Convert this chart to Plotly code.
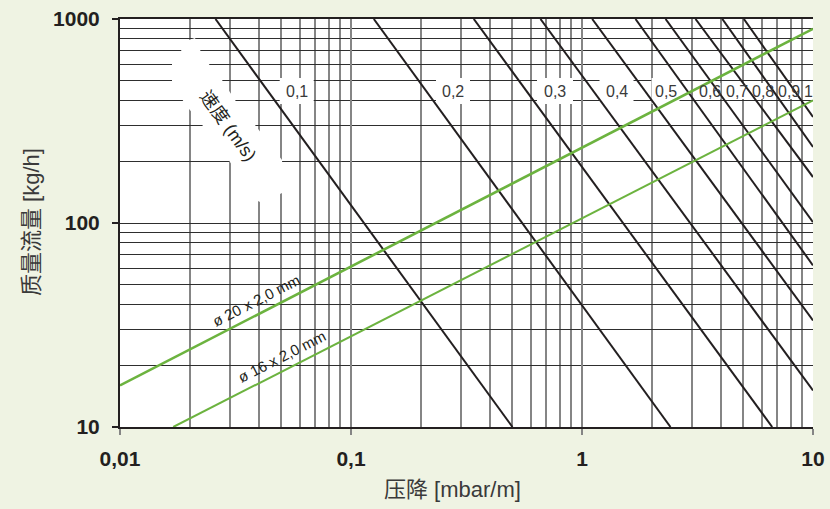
import plotly.graph_objects as go

# velocity lines (m/s): start on top edge, end on bottom or right edge
vel_labels = ["0,1", "0,2", "0,3", "0,4", "0,5", "0,6", "0,7", "0,8", "0,9", "1"]
vel_x_start = [0.0259, 0.1255, 0.340, 0.661, 1.107, 1.704, 2.30, 3.10, 4.05, 5.02]
vel_y_start = [1000, 1000, 1000, 1000, 1000, 1000, 1000, 1000, 1000, 1000]
vel_x_end = [0.5, 2.416, 6.66, 10, 10, 10, 10, 10, 10, 10]
vel_y_end = [10, 10, 10, 15.1, 33.3, 62, 101, 168, 236, 331]

# pipe lines
pipe_labels = ["ø 20 x 2,0 mm", "ø 16 x 2,0 mm"]
pipe_x = [[0.01, 10], [0.0170, 10]]
pipe_y = [[16.0, 895], [10, 399]]
pipe_widths = [2.6, 2.0]

x_ticks = [0.01, 0.1, 1, 10]
x_ticktext = ["0,01", "0,1", "1", "10"]
y_ticks = [10, 100, 1000]
y_ticktext = ["10", "100", "1000"]

FONT = "Liberation Sans, Arial, Noto Sans CJK SC"
DARK = "#231f20"
GREEN = "#6cb33f"

# plot area in pixels (margins below)
L, R, T, B = 120, 17, 19, 82
W, H = 830, 509
PW, PH = W - L - R, H - T - B


def paper(px, py):
    """pixel position -> paper coordinates"""
    return (px - L) / PW, (H - B - py) / PH


def to_data(px, py):
    """pixel position -> data coordinates on the log axes"""
    fx, fy = paper(px, py)
    return 10 ** (-2 + 3 * fx), 10 ** (1 + 2 * fy)


def minor_vals(lo, hi):
    vals = []
    e = lo
    while e < hi:
        for m in range(2, 10):
            vals.append(m * 10 ** e)
        e += 1
    return vals


def mask(points):
    """white filled polygon that hides gridlines (drawn under the lines)"""
    pts = [to_data(px, py) for px, py in points]
    pts.append(pts[0])
    return go.Scatter(
        x=[p[0] for p in pts], y=[p[1] for p in pts], mode="lines",
        fill="toself", fillcolor="white", line=dict(width=0, color="white"),
        showlegend=False, hoverinfo="skip"
    )


fig = go.Figure()

# white blob behind the "速度 (m/s)" label
blob = [(195, 38), (200, 50), (208, 63), (222, 80), (235, 100), (255, 125),
        (282, 160), (284, 192), (262, 203), (256, 200), (230, 162), (203, 126),
        (185, 104), (172, 82), (172, 63), (189, 40)]
fig.add_trace(mask(blob))

# white boxes behind velocity labels
label_px = [296.7, 453, 555, 616.5, 665.5, 709.5, 736.7, 763, 789, 808]
box_w = [34, 34, 36, 34, 28, 22, 22, 22, 20, 8]
label_py = 91
for cx, bw in zip(label_px, box_w):
    hh = 13 if bw > 25 else 8
    fig.add_trace(mask([(cx - bw / 2, label_py - hh), (cx + bw / 2, label_py - hh),
                        (cx + bw / 2, label_py + hh), (cx - bw / 2, label_py + hh)]))

for xs, xe, ys, ye in zip(vel_x_start, vel_x_end, vel_y_start, vel_y_end):
    fig.add_trace(go.Scatter(
        x=[xs, xe], y=[ys, ye], mode="lines",
        line=dict(color=DARK, width=2), showlegend=False, hoverinfo="skip"
    ))

for xs, ys, w in zip(pipe_x, pipe_y, pipe_widths):
    fig.add_trace(go.Scatter(
        x=xs, y=ys, mode="lines",
        line=dict(color=GREEN, width=w), showlegend=False, hoverinfo="skip"
    ))

annotations = []


def note(text, px, py, size, color=DARK, angle=0):
    ax, ay = paper(px, py)
    annotations.append(dict(text=text, x=ax, y=ay, xref="paper", yref="paper",
                            xanchor="center", yanchor="middle", showarrow=False,
                            textangle=angle,
                            font=dict(family=FONT, size=size, color=color)))


for lab, cx in zip(vel_labels, label_px):
    note(lab, cx, label_py, 16, "#3a3a3a")

# pipe labels along the green lines
note(pipe_labels[0], 255.7, 300, 15, angle=-27)
note(pipe_labels[1], 281.7, 356.7, 15, angle=-27)

note("速度 (m/s)", 228, 126, 18, angle=54)

# axis titles
note("质量流量 [kg/h]", 31, 222, 22, "#3a3a3a", angle=-90)
note("压降 [mbar/m]", 452, 490, 22, "#3a3a3a")

fig.update_layout(
    width=W, height=H,
    margin=dict(l=L, r=R, t=T, b=B, autoexpand=False),
    paper_bgcolor="#eff3e3",
    plot_bgcolor="white",
    annotations=annotations,
    xaxis=dict(
        type="log", range=[-2, 1], automargin=False,
        tickvals=x_ticks, ticktext=x_ticktext,
        showgrid=True, gridcolor="#858585", gridwidth=1.8,
        minor=dict(tickvals=minor_vals(-2, 1), showgrid=True,
                   gridcolor="#858585", gridwidth=1.8, ticks=""),
        showline=True, linecolor=DARK, linewidth=2, mirror=True,
        ticks="outside", ticklen=6, tickcolor="#858585", tickwidth=1.6,
        tickfont=dict(family=FONT, size=21, color=DARK, weight="bold"),
        ticklabelstandoff=6, zeroline=False,
    ),
    yaxis=dict(
        type="log", range=[1, 3], automargin=False,
        tickvals=y_ticks, ticktext=y_ticktext,
        showgrid=True, gridcolor="#2e2e2e", gridwidth=1.2,
        minor=dict(tickvals=minor_vals(1, 3), showgrid=True,
                   gridcolor="#2e2e2e", gridwidth=1.2, ticks=""),
        showline=True, linecolor=DARK, linewidth=2,
        ticks="outside", ticklen=6, tickcolor=DARK, tickwidth=1.6,
        tickfont=dict(family=FONT, size=21, color=DARK, weight="bold"),
        ticklabelstandoff=8, zeroline=False,
    ),
)

fig.write_html("out.html", config={"displayModeBar": False},
               post_script="document.body.style.margin='0';")
